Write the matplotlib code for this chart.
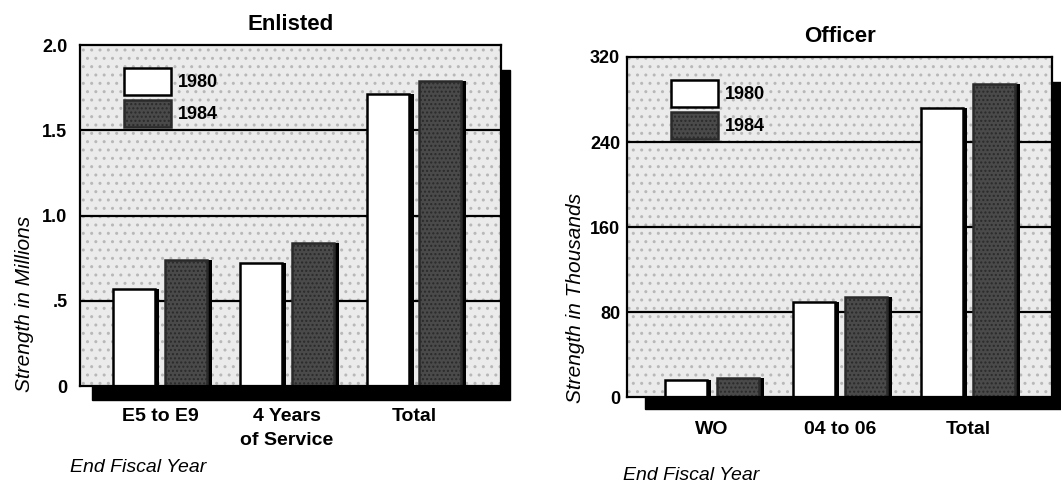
import matplotlib.pyplot as plt
import numpy as np
from matplotlib.patches import Patch, Rectangle

plt.rcParams['font.family'] = ['Liberation Sans', 'DejaVu Sans']

# Enlisted strength (millions)
enl_groups = ['E5 to E9', '4 Years\nof Service', 'Total']
enl_1980 = [0.57, 0.72, 1.71]
enl_1984 = [0.74, 0.84, 1.79]
enl_ticks = [0, 0.5, 1.0, 1.5, 2.0]
enl_ticklabels = ['0', '.5', '1.0', '1.5', '2.0']

# Officer strength (thousands)
off_groups = ['WO', '04 to 06', 'Total']
off_1980 = [16, 89, 272]
off_1984 = [18, 94, 295]
off_ticks = [0, 80, 160, 240, 320]
off_ticklabels = ['0', '80', '160', '240', '320']

years = ['1980', '1984']

BG = '#ebebeb'
DARK = '#4a4a4a'


def panel(ax, groups, v80, v84, ticks, ticklabels, title, ylabel, xlim, shadow,
          xpad, ypad, labxy):
    x = np.arange(len(groups))
    w = 0.33
    off = 0.205
    ax.set_facecolor('none')
    # panel shadow + background
    sx, sy, sw, sh = shadow
    ax.add_patch(Rectangle((sx, sy), sw, sh, transform=ax.transAxes,
                           color='black', clip_on=False, zorder=-2))
    ax.add_patch(Rectangle((0, 0), 1, 1, transform=ax.transAxes,
                           facecolor=BG, edgecolor='#b8b8b8', hatch='..',
                           linewidth=0, clip_on=False, zorder=-1))
    for t in ticks[1:-1]:
        ax.axhline(t, color='black', lw=1.6, zorder=0.5)
    d = 0.035
    # bar shadows
    ax.bar(x - off + d, v80, w, color='black', zorder=1)
    ax.bar(x + off + d, v84, w, color='black', zorder=1)
    ax.bar(x - off, v80, w, facecolor='white', edgecolor='black', lw=1.8, zorder=2)
    ax.bar(x + off, v84, w, facecolor=DARK, edgecolor='#2a2a2a', hatch='....',
           lw=1.8, zorder=2)
    ax.set_xlim(*xlim)
    ax.set_ylim(0, ticks[-1])
    ax.set_xticks(x, groups, fontsize=14, fontweight='bold', linespacing=1.5)
    ax.set_yticks(ticks, ticklabels, fontsize=13, fontweight='bold')
    ax.tick_params(length=0)
    ax.tick_params(axis='x', pad=xpad)
    ax.tick_params(axis='y', pad=ypad)
    for s in ax.spines.values():
        s.set_linewidth(1.6)
    ax.set_title(title, fontsize=16, fontweight='bold', pad=11)
    ax.set_ylabel(ylabel, fontsize=15, style='italic')
    ax.yaxis.set_label_coords(*labxy)
    handles = [Patch(facecolor='white', edgecolor='black', lw=1.8),
               Patch(facecolor=DARK, edgecolor='#2a2a2a', hatch='....', lw=1.8)]
    ax.legend(handles, years, loc='upper left', bbox_to_anchor=(0.065, 0.98),
              frameon=False, prop={'weight': 'bold', 'size': 13},
              handlelength=2.6, handleheight=1.9, handletextpad=0.4,
              labelspacing=0.3)


fig = plt.figure(figsize=(10.61, 4.83), dpi=100)
ax1 = fig.add_axes([0.0754, 0.2008, 0.397, 0.706])
ax2 = fig.add_axes([0.591, 0.178, 0.4006, 0.704])

panel(ax1, enl_groups, enl_1980, enl_1984, enl_ticks, enl_ticklabels,
      'Enlisted', 'Strength in Millions', (-0.63, 2.685),
      (0.028, -0.041, 0.993, 0.968), 16, 9, (-0.11, 0.24))
panel(ax2, off_groups, off_1980, off_1984, off_ticks, off_ticklabels,
      'Officer', 'Strength in Thousands', (-0.664, 2.656),
      (0.042, -0.035, 1.0, 0.96), 17, 5, (-0.10, 0.29))

fig.text(70 / 1061, 1 - 467 / 483, 'End Fiscal Year', fontsize=14, style='italic',
         va='center', ha='left')
fig.text(623 / 1061, 1 - 475 / 483, 'End Fiscal Year', fontsize=14, style='italic',
         va='center', ha='left')

fig.savefig('out.png', dpi=100)
